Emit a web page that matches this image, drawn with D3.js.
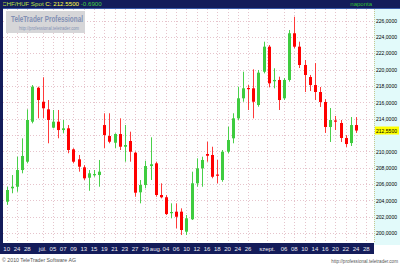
<!DOCTYPE html>
<html>
<head>
<meta charset="utf-8">
<script src="https://d3js.org/d3.v7.min.js"></script>
<style>
  body { margin: 0; background: #fff; }
  svg { display: block; font-family: "Liberation Sans", Arial, sans-serif; }
</style>
</head>
<body>
<div id="chart"></div>
<script>
// daily CHF/HUF candles
var openVals  = [203.85,205.49,205.68,207.72,208.74,213.63,217.78,216.07,215.14,212.90,
                 213.63,212.61,212.82,210.25,209.03,208.05,206.78,207.11,207.11,213.22,
                 211.88,211.06,212.12,210.57,211.27,209.84,205.00,205.89,208.21,208.54,
                 204.67,204.39,202.50,202.63,202.63,200.18,201.70,206.10,207.93,209.68,
                 209.56,207.17,206.50,209.96,211.60,214.04,216.49,217.75,217.71,215.67,
                 219.74,222.80,218.57,218.73,216.49,218.73,224.44,222.80,220.56,219.09,
                 218.11,217.26,216.04,212.98,213.78,213.47,211.64,211.02,213.22];
var highVals  = [205.68,207.11,209.35,211.60,215.14,218.11,217.91,219.06,216.28,215.06,
                 215.06,213.84,213.22,210.38,209.56,208.33,207.72,207.72,208.95,214.66,
                 214.66,212.21,214.04,213.22,212.41,209.96,206.50,208.86,211.72,208.74,
                 206.10,204.67,203.65,203.65,203.04,202.22,207.52,209.15,209.35,211.18,
                 210.57,208.95,210.17,213.02,214.66,217.91,219.74,218.11,220.03,219.95,
                 223.41,223.00,220.16,219.13,218.97,224.84,226.46,223.41,221.17,219.34,
                 220.80,217.87,216.40,215.30,214.33,213.84,212.00,214.20,214.20];
var lowVals   = [203.45,204.88,205.07,207.32,208.54,213.43,214.04,214.04,210.99,212.82,
                 211.60,212.21,209.77,208.54,207.52,206.50,205.19,206.90,205.68,210.38,
                 210.99,210.38,210.17,208.74,208.74,204.46,203.65,205.49,206.50,204.46,
                 204.26,202.22,201.82,200.60,199.78,199.78,201.61,205.68,205.68,208.74,
                 206.71,206.10,206.29,209.77,210.99,213.84,216.07,215.06,214.04,215.46,
                 219.54,217.83,217.71,215.06,216.28,218.52,222.60,220.19,217.26,217.38,
                 216.28,215.43,212.25,211.15,212.61,211.15,210.54,210.66,212.25];
var closeVals = [205.28,205.68,207.72,209.44,213.84,217.91,216.28,215.27,213.84,213.63,
                 212.61,212.82,210.17,208.74,208.13,206.71,207.32,207.23,207.52,212.00,
                 211.18,212.12,210.57,210.78,209.96,204.95,205.89,208.21,208.42,204.67,
                 204.39,202.34,202.59,202.01,200.39,201.82,206.10,207.93,208.95,209.47,
                 206.90,207.05,209.96,211.39,214.04,216.49,217.71,217.63,216.07,219.62,
                 222.80,218.32,218.73,216.28,218.73,224.44,222.80,220.56,219.34,218.11,
                 217.26,216.04,212.98,213.84,213.65,211.64,210.90,213.22,212.55];

// date labels on the bottom bar and the candle slot each one sits on
var xTickLabels = ["10","24","28","júl.","05","07","09","13","15","19","21","23","27","29",
                   "aug.","04","06","10","12","16","18","20","24","26",
                   "szept.","06","08","10","14","16","20","22","24","28"];
var xTickIndex  = [0,2,4,7,9,11,13,15,17,19,21,23,25,27,
                   29,31,33,35,37,39,41,43,45,47,
                   50.7,54,56,58,60,62,64,66,68,70];

var yTickValues = [200,202,204,206,208,210,212,214,216,218,220,222,224,226];
var lastValue = 212.55;

var width = 400, height = 266;
var plotLeft = 3, plotRight = 374, plotTop = 9, plotBottom = 243;

var navy = "#141c5a";
var green = "#3fcc3f";
var red = "#ff0000";

var svg = d3.select("#chart")
  .append("svg")
    .attr("width", width)
    .attr("height", height);

// scales
var x = d3.scaleLinear().domain([0, 68]).range([6.7, 356]);
var y = d3.scaleLinear().domain([200, 226]).range([233.2, 20.5]);

var fmt = function(v) { return d3.format(".4f")(v).replace(".", ","); };

// plot background
svg.append("rect")
  .attr("x", plotLeft).attr("y", plotTop)
  .attr("width", plotRight - plotLeft).attr("height", plotBottom - plotTop)
  .attr("fill", "#ffffff");

// grid
var grid = svg.append("g").attr("stroke", "#e6c4cc").attr("stroke-width", 1)
  .attr("stroke-dasharray", "1,2");
grid.selectAll(".hgrid")
  .data(yTickValues)
  .enter().append("line")
    .attr("class", "hgrid")
    .attr("x1", plotLeft).attr("x2", plotRight)
    .attr("y1", function(d) { return Math.round(y(d)) + 0.5; })
    .attr("y2", function(d) { return Math.round(y(d)) + 0.5; });
grid.selectAll(".vgrid")
  .data(xTickIndex)
  .enter().append("line")
    .attr("class", "vgrid")
    .attr("x1", function(d) { return Math.round(x(d)) + 0.5; })
    .attr("x2", function(d) { return Math.round(x(d)) + 0.5; })
    .attr("y1", plotTop).attr("y2", plotBottom);

// watermark
var wm = svg.append("g");
wm.append("rect")
  .attr("x", 6).attr("y", 11).attr("width", 79).attr("height", 22)
  .attr("fill", "#d6d6d8");
wm.append("text")
  .attr("x", 47).attr("y", 22)
  .attr("text-anchor", "middle")
  .attr("font-size", 8.5).attr("font-weight", "bold")
  .attr("fill", "#8290b4")
  .attr("textLength", 72).attr("lengthAdjust", "spacingAndGlyphs")
  .text("TeleTrader Professional");
wm.append("text")
  .attr("x", 49).attr("y", 30)
  .attr("text-anchor", "middle")
  .attr("font-size", 5)
  .attr("fill", "#8290b4")
  .attr("textLength", 60).attr("lengthAdjust", "spacingAndGlyphs")
  .text("http://professional.teletrader.com");

// candles
var candles = d3.range(openVals.length).map(function(i) {
  return {i: i, o: openVals[i], h: highVals[i], l: lowVals[i], c: closeVals[i]};
});

var cg = svg.append("g");
cg.selectAll(".wick")
  .data(candles)
  .enter().append("line")
    .attr("class", "wick")
    .attr("x1", function(d) { return Math.round(x(d.i)) + 0.5; })
    .attr("x2", function(d) { return Math.round(x(d.i)) + 0.5; })
    .attr("y1", function(d) { return y(d.h); })
    .attr("y2", function(d) { return y(d.l); })
    .attr("stroke", function(d) { return d.c >= d.o ? "#4ad04a" : "#ff3a3a"; })
    .attr("stroke-width", 1);

cg.selectAll(".body")
  .data(candles)
  .enter().append("rect")
    .attr("class", "body")
    .attr("x", function(d) { return Math.round(x(d.i)) - 1; })
    .attr("y", function(d) { return Math.min(y(d.o), y(d.c)); })
    .attr("width", 3)
    .attr("height", function(d) { return Math.max(1.2, Math.abs(y(d.o) - y(d.c))); })
    .attr("fill", function(d) { return d.c >= d.o ? green : red; });

// right value axis panel
svg.append("rect")
  .attr("x", plotRight).attr("y", plotTop)
  .attr("width", width - plotRight).attr("height", plotBottom - plotTop + 2)
  .attr("fill", "#e2fafa");
svg.append("line")
  .attr("x1", plotRight + 0.5).attr("x2", plotRight + 0.5)
  .attr("y1", plotTop).attr("y2", plotBottom)
  .attr("stroke", "#c8c890").attr("stroke-dasharray", "1,1");

// the last-price marker hides the tick label it lands on
svg.selectAll(".ylab")
  .data(yTickValues.filter(function(d) { return Math.abs(y(d) - y(lastValue)) > 7; }))
  .enter().append("text")
    .attr("class", "ylab")
    .attr("x", 376)
    .attr("y", function(d) { return y(d) + 2.2; })
    .attr("font-size", 6)
    .attr("fill", "#000")
    .attr("textLength", 21).attr("lengthAdjust", "spacingAndGlyphs")
    .text(function(d) { return fmt(d); });

// last price marker
svg.append("rect")
  .attr("x", plotRight + 1).attr("y", y(lastValue) - 4)
  .attr("width", 24).attr("height", 8)
  .attr("fill", "#ffff00");
svg.append("text")
  .attr("x", 376).attr("y", y(lastValue) + 2.2)
  .attr("font-size", 6)
  .attr("fill", "#000")
  .attr("textLength", 21).attr("lengthAdjust", "spacingAndGlyphs")
  .text(fmt(lastValue));

// header bar
svg.append("rect")
  .attr("x", 0).attr("y", 0).attr("width", width).attr("height", 8)
  .attr("fill", navy);
svg.append("line")
  .attr("x1", 0).attr("x2", width).attr("y1", 8.5).attr("y2", 8.5)
  .attr("stroke", "#3a5aa8");
var head = svg.append("text")
  .attr("x", 2).attr("y", 6.4)
  .attr("font-size", 6.2);
head.append("tspan").attr("fill", "#b8e040").text("CHF/HUF Spot ");
head.append("tspan").attr("fill", "#ffff40").text("C: 212.5500 ");
head.append("tspan").attr("fill", "#40d040").text("-0.6900");
svg.append("text")
  .attr("x", 372).attr("y", 6.4)
  .attr("text-anchor", "end")
  .attr("font-size", 6)
  .attr("fill", "#30c030")
  .text("naponta");

// left border
svg.append("rect")
  .attr("x", 0).attr("y", 0).attr("width", plotLeft).attr("height", 254)
  .attr("fill", navy);

// bottom date bar
svg.append("rect")
  .attr("x", 0).attr("y", plotBottom).attr("width", plotRight).attr("height", 11)
  .attr("fill", navy);
svg.selectAll(".xlab")
  .data(xTickLabels)
  .enter().append("text")
    .attr("class", "xlab")
    .attr("x", function(d, i) { return x(xTickIndex[i]); })
    .attr("y", 251)
    .attr("text-anchor", "middle")
    .attr("font-size", 6)
    .attr("fill", "#e8e8f0")
    .text(function(d) { return d; });

// footer
svg.append("text")
  .attr("x", 2).attr("y", 262)
  .attr("font-size", 6)
  .attr("fill", "#555")
  .attr("textLength", 74).attr("lengthAdjust", "spacingAndGlyphs")
  .text("© 2010 TeleTrader Software AG");
svg.append("text")
  .attr("x", 398).attr("y", 263)
  .attr("text-anchor", "end")
  .attr("font-size", 4.6)
  .attr("fill", "#555")
  .text("http://professional.teletrader.com");
</script>
</body>
</html>
